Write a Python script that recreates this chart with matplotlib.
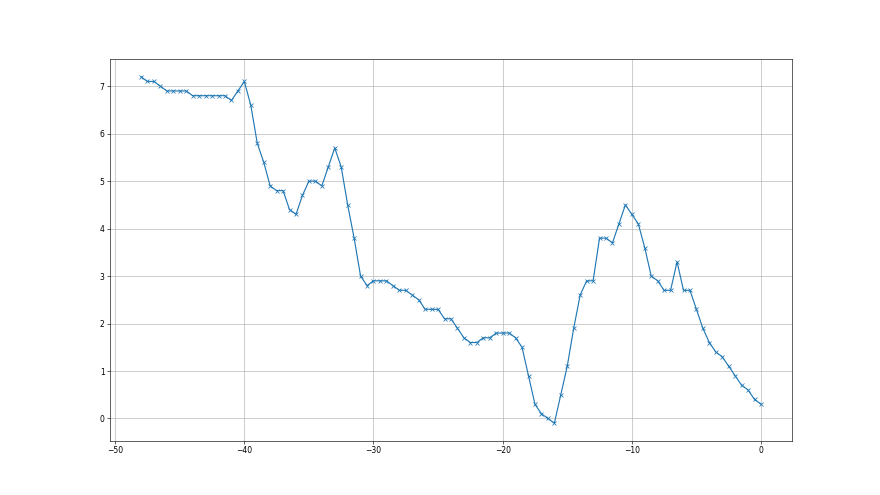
import matplotlib
matplotlib.use("Agg")
import matplotlib.pyplot as plt

# x positions (step 0.5) and readings
x_vals = [i * 0.5 for i in range(-96, 1)]
y_vals = [
    7.2, 7.1, 7.1, 7.0, 6.9, 6.9, 6.9, 6.9, 6.8, 6.8,
    6.8, 6.8, 6.8, 6.8, 6.7, 6.9, 7.1, 6.6, 5.8, 5.4,
    4.9, 4.8, 4.8, 4.4, 4.3, 4.7, 5.0, 5.0, 4.9, 5.3,
    5.7, 5.3, 4.5, 3.8, 3.0, 2.8, 2.9, 2.9, 2.9, 2.8,
    2.7, 2.7, 2.6, 2.5, 2.3, 2.3, 2.3, 2.1, 2.1, 1.9,
    1.7, 1.6, 1.6, 1.7, 1.7, 1.8, 1.8, 1.8, 1.7, 1.5,
    0.9, 0.3, 0.1, 0.0, -0.1, 0.5, 1.1, 1.9, 2.6, 2.9,
    2.9, 3.8, 3.8, 3.7, 4.1, 4.5, 4.3, 4.1, 3.6, 3.0,
    2.9, 2.7, 2.7, 3.3, 2.7, 2.7, 2.3, 1.9, 1.6, 1.4,
    1.3, 1.1, 0.9, 0.7, 0.6, 0.4, 0.3,
]

fig = plt.figure(figsize=(16, 9), dpi=55)
plt.plot(x_vals, y_vals, marker="x")
plt.grid()
plt.savefig("out.png", dpi=55)
